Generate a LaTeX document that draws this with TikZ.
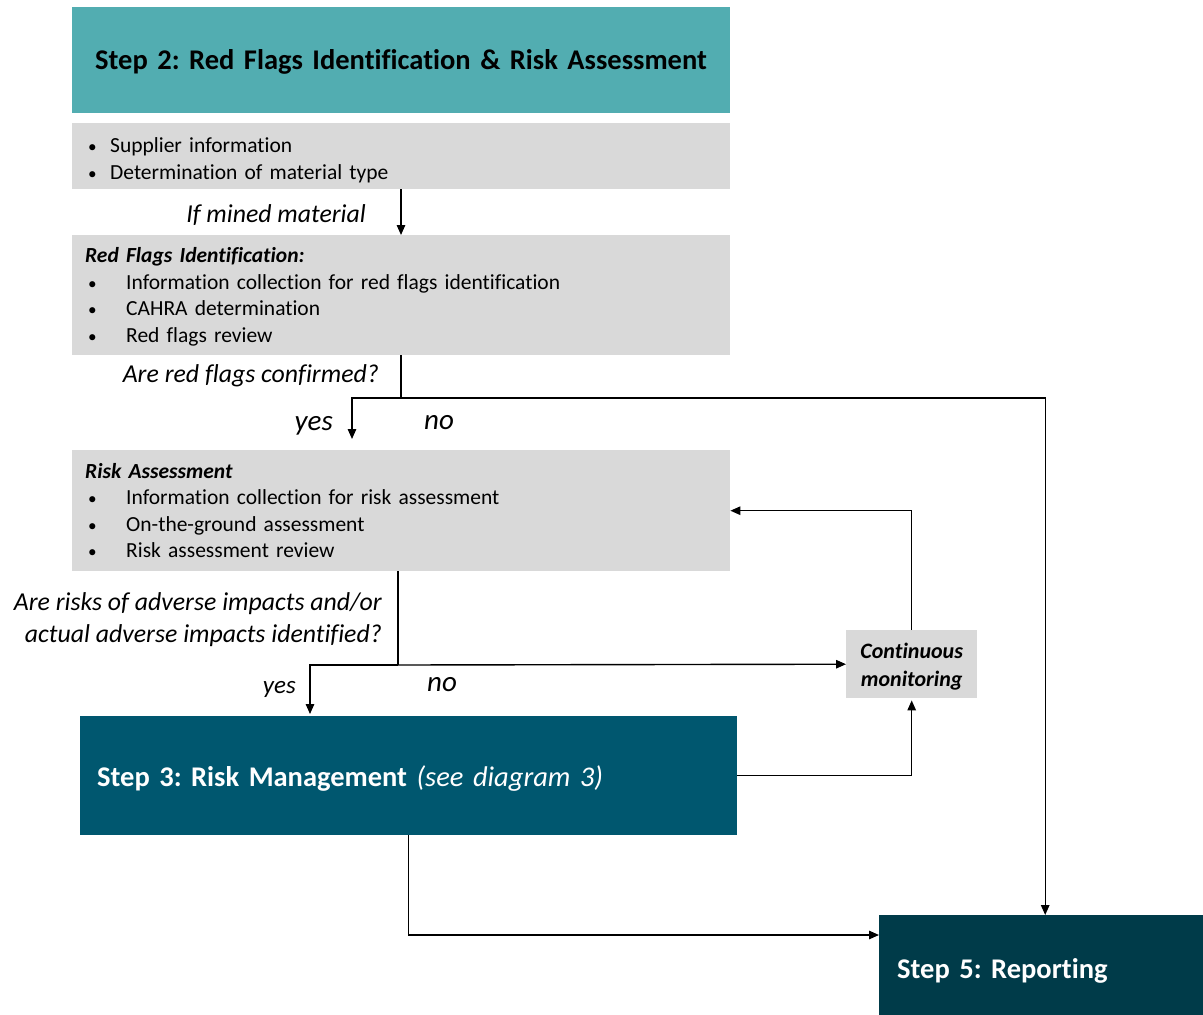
\documentclass[tikz,border=0pt]{standalone}
\usepackage{fontspec}
\setmainfont[Ligatures={NoCommon}]{Carlito}
\usetikzlibrary{arrows.meta,calc}
\definecolor{tealA}{HTML}{52ADB1}
\definecolor{greyA}{HTML}{D9D9D9}
\definecolor{stepthree}{HTML}{00576F}
\definecolor{stepfive}{HTML}{003B49}
\tikzset{
  box/.style={anchor=north west, inner sep=0pt, align=left},
  greybox/.style={box, fill=greyA, font=\fontsize{21.5}{26.5}\selectfont},
  bigbox/.style={box, font=\fontsize{28.5}{34}\selectfont\bfseries},
  lbl/.style={inner sep=0pt, font=\fontsize{25.8}{32}\selectfont\itshape},
  yn/.style={inner sep=0pt, font=\fontsize{29}{32}\selectfont\itshape},
  conn/.style={line width=1.4pt},
  arr/.style={conn, -{Triangle[length=10pt,width=8.5pt]}},
}
\newcommand{\bulA}{\makebox[22pt][l]{\scalebox{0.8}{•}}}
\newcommand{\bulB}{\makebox[38pt][l]{\scalebox{0.8}{•}}}
\begin{document}
\frenchspacing
\begin{tikzpicture}[x=1pt,y=-1pt]
\useasboundingbox (0,0) rectangle (1203,1015);
% boxes
\node[bigbox, fill=tealA, minimum width=658pt, minimum height=106pt, text width=658pt,
      text height=24pt, text depth=6pt] (step2) at (72,7)
  {\hspace*{23pt}Step 2: Red Flags Identification \& Risk Assessment};
\node[greybox, minimum width=658pt, minimum height=66pt, text width=658pt] (box2) at (72,123)
  {\hspace*{16pt}\rule{0pt}{23pt}\bulA Supplier information\\\hspace*{16pt}\bulA Determination of material type};
\node[greybox, minimum width=658pt, minimum height=120pt, text width=658pt] (box3) at (72,235)
  {\hspace*{13pt}\rule{0pt}{18pt}\textbf{\textit{Red Flags Identification:}}\\
   \hspace*{16pt}\bulB Information collection for red flags identification\\
   \hspace*{16pt}\bulB CAHRA determination\\
   \hspace*{16pt}\bulB Red flags review};
\node[greybox, minimum width=658pt, minimum height=121pt, text width=658pt] (box4) at (72,450)
  {\hspace*{13pt}\textbf{\textit{Risk Assessment}}\\
   \hspace*{16pt}\bulB Information collection for risk assessment\\
   \hspace*{16pt}\bulB On-the-ground assessment\\
   \hspace*{16pt}\bulB Risk assessment review};
\node[greybox, minimum width=131pt, minimum height=68pt, align=center, text width=131pt,
      font=\fontsize{22}{28}\selectfont\bfseries\itshape] (cm) at (846,630)
  {\rule{0pt}{19.5pt}Continuous\\monitoring};
\node[bigbox, fill=stepthree, text=white, minimum width=657pt, minimum height=119pt, text width=657pt,
      text height=26pt, text depth=5pt] (step3) at (80,716)
  {\hspace*{17pt}Step 3: Risk Management \textmd{\itshape (see diagram 3)}};
\node[bigbox, fill=stepfive, text=white, minimum width=324pt, minimum height=100pt, text width=324pt,
      text height=30pt, text depth=4pt] (step5) at (879,915)
  {\hspace*{18pt}Step 5: Reporting};
% labels
\node[lbl, anchor=east] (lmined) at (366,215) {If mined material};
\node[lbl, anchor=east] (lredq) at (379,376) {Are red flags confirmed?};
\node[yn, anchor=east] (lyes1) at (333,426) {yes};
\node[yn, anchor=west] (lno1) at (424,423) {no};
\node[lbl, anchor=east, align=right] (lriskq) at (382,620) {Are risks of adverse impacts and/or\\actual adverse impacts identified?};
\node[lbl, anchor=east, font=\fontsize{25}{28}\selectfont\itshape] (lyes2) at (296,689) {yes};
\node[yn, anchor=west] (lno2) at (427,685) {no};
% junction coordinates
\coordinate (m1) at (401,0);
\coordinate (c1) at (401,398);
\coordinate (y1) at (352,398);
\coordinate (c2) at (398,665);
\coordinate (y2) at (310,665);
% connectors
\draw[arr] (box2.south -| m1) -- (box3.north -| m1);
\draw[arr] (box3.south -| c1) -- (c1) -| ($(step5.north)+(4,0)$);
\draw[arr, shorten >=11pt] (c1) -- (y1) -- (y1 |- box4.north);
\draw[conn] (box4.south -| c2) -- (c2);
\draw[arr] (c2) -- (cm.west);
\draw[arr, shorten >=2pt] (c2) -- (y2) -- (y2 |- step3.north);
\draw[arr] (cm.north) |- (box4.east);
\draw[arr, shorten >=2pt] (step3.east) -| (cm.south);
\draw[arr] (step3.south) |- ($(step5.north west)+(0,20)$);
\end{tikzpicture}
\end{document}
